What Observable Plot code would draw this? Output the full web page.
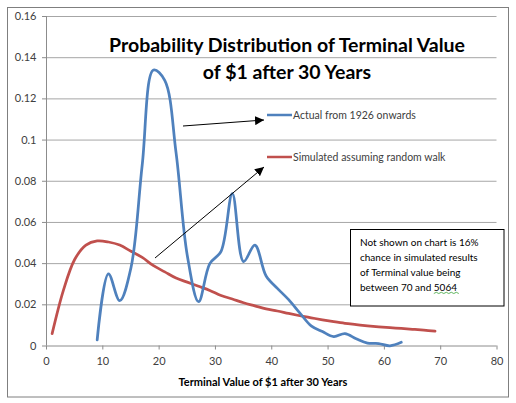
<!DOCTYPE html>
<html>
<head>
<meta charset="utf-8">
<script src="https://cdn.jsdelivr.net/npm/d3@7"></script>
<script src="https://cdn.jsdelivr.net/npm/@observablehq/plot@0.6"></script>
<style>
  html, body { margin: 0; padding: 0; background: #fff; }
  #chart svg { display: block; }
</style>
</head>
<body>
<div id="chart"></div>
<script>
// ---- data ----
const xTicks = [0, 10, 20, 30, 40, 50, 60, 70, 80];
const yTicks = [0, 0.02, 0.04, 0.06, 0.08, 0.1, 0.12, 0.14, 0.16];

const actualX = [9, 11, 13, 15, 17, 19, 21, 23, 25, 27, 29, 31, 33, 35, 37, 39, 41, 43, 45, 47, 49, 51, 53, 55, 57, 59, 61, 63];
const actualY = [0.003, 0.035, 0.022, 0.038, 0.088, 0.134, 0.129, 0.094, 0.044, 0.0215, 0.040, 0.046, 0.074, 0.041, 0.049, 0.034, 0.028, 0.0225, 0.016, 0.0098, 0.007, 0.0046, 0.006, 0.0035, 0.0014, 0.0012, 0.0001, 0.0018];

const simX = [1, 3, 5, 7, 9, 11, 13, 15, 17, 19, 21, 23, 25, 27, 29, 31, 33, 35, 37, 39, 41, 43, 45, 47, 49, 51, 53, 55, 57, 59, 61, 63, 65, 67, 69];
const simY = [0.006, 0.027, 0.042, 0.049, 0.051, 0.0505, 0.049, 0.046, 0.043, 0.039, 0.036, 0.033, 0.031, 0.029, 0.027, 0.0245, 0.0228, 0.021, 0.0195, 0.018, 0.017, 0.0158, 0.0147, 0.0137, 0.0127, 0.0118, 0.011, 0.0104, 0.0098, 0.0093, 0.0089, 0.0085, 0.0081, 0.0077, 0.0072];

const seriesNames = ["Actual from 1926 onwards", "Simulated assuming random walk"];
const seriesColors = ["#4F81BD", "#C0504D"];
const titleLines = ["Probability Distribution of Terminal Value", "of $1 after 30 Years"];
const xLabel = "Terminal Value of $1 after 30 Years";
const noteLines = ["Not shown on chart is 16%", "chance in simulated results", "of Terminal value being", "between 70 and "];
const noteTail = "5064";

const actual = actualX.map((x, i) => ({x, y: actualY[i]}));
const sim = simX.map((x, i) => ({x, y: simY[i]}));

const FONT = "Lato, 'Open Sans', sans-serif";
const fmt = d => String(+d.toFixed(2));

const chart = Plot.plot({
  width: 516,
  height: 403,
  marginLeft: 46,
  marginRight: 19.5,
  marginTop: 16,
  marginBottom: 57.5,
  style: {fontFamily: FONT, fontSize: "11px", color: "#404040", background: "#fff"},
  x: {domain: [0, 80]},
  y: {domain: [0, 0.16]},
  marks: [
    Plot.gridY(yTicks.filter(d => d > 0), {stroke: "#a6a6a6", strokeOpacity: 1, strokeWidth: 1}),
    Plot.axisX(xTicks, {tickSize: 4, tickPadding: 7, stroke: "#8c8c8c", label: null, fill: "#404040", fontSize: 11}),
    Plot.axisY(yTicks, {tickSize: 4, tickPadding: 6, stroke: "#8c8c8c", label: null, tickFormat: fmt, fill: "#404040", fontSize: 11}),
    Plot.ruleY([0], {stroke: "#8c8c8c"}),
    Plot.ruleX([0], {stroke: "#8c8c8c"}),
    Plot.line(sim, {x: "x", y: "y", curve: "catmull-rom", stroke: seriesColors[1], strokeWidth: 2.75}),
    Plot.line(actual, {x: "x", y: "y", curve: "catmull-rom", stroke: seriesColors[0], strokeWidth: 2.75})
  ]
});
document.getElementById("chart").appendChild(chart);

// ---- annotations (layout) ----
const svg = d3.select(chart);
svg.insert("rect", ":first-child")
  .attr("x", 7.5).attr("y", 7.5).attr("width", 501).attr("height", 389.5)
  .attr("fill", "#fff").attr("stroke", "#7f7f7f");

const defs = svg.append("defs");
defs.append("marker").attr("id", "ah").attr("viewBox", "0 0 10 10")
  .attr("refX", 10).attr("refY", 5).attr("markerWidth", 9).attr("markerHeight", 9)
  .attr("markerUnits", "userSpaceOnUse").attr("orient", "auto")
  .append("path").attr("d", "M0,0L10,5L0,10Z").attr("fill", "#000");

const ann = svg.append("g").attr("font-family", FONT).attr("text-anchor", "start");

// title
titleLines.forEach((t, i) => {
  ann.append("text").attr("x", 287).attr("y", 52 + i * 27).attr("text-anchor", "middle")
    .attr("font-size", 19.5).attr("font-weight", "bold").attr("fill", "#000").text(t);
});

// legend
const legY = [115, 157];
seriesNames.forEach((n, i) => {
  ann.append("line").attr("x1", 267).attr("x2", 292).attr("y1", legY[i]).attr("y2", legY[i])
    .attr("stroke", seriesColors[i]).attr("stroke-width", 2.5);
  ann.append("text").attr("x", 293).attr("y", legY[i] + 3.8).attr("font-size", 10.5)
    .attr("fill", "#404040").text(n);
});

// arrows
[[183, 126, 264, 120], [155, 258, 264, 167]].forEach(([x1, y1, x2, y2]) => {
  ann.append("line").attr("x1", x1).attr("y1", y1).attr("x2", x2).attr("y2", y2)
    .attr("stroke", "#000").attr("stroke-width", 1).attr("marker-end", "url(#ah)");
});

// note box
ann.append("rect").attr("x", 350.5).attr("y", 229.5).attr("width", 153.5).attr("height", 76.5)
  .attr("fill", "#fff").attr("stroke", "#000").attr("stroke-width", 1);
noteLines.forEach((t, i) => {
  const tx = ann.append("text").attr("x", 360).attr("y", 245.5 + i * 15).attr("font-size", 10)
    .attr("fill", "#000").text(t);
  if (i === noteLines.length - 1) {
    const w = tx.node().getComputedTextLength();
    const tail = ann.append("text").attr("x", 360 + w).attr("y", 245.5 + i * 15).attr("font-size", 10)
      .attr("fill", "#000").text(noteTail);
    const tw = tail.node().getComputedTextLength();
    const x0 = 360 + w, yb = 245.5 + i * 15 + 3;
    const n = Math.ceil(tw / 2.5);
    ann.append("path").attr("d", d3.range(0, n + 1).map(k => `${k ? "L" : "M"}${x0 + k * 2.5},${k % 2 ? yb - 1.2 : yb}`).join(""))
      .attr("fill", "none").attr("stroke", "#3aa53a").attr("stroke-width", 0.8);
  }
});

// x axis title
ann.append("text").attr("x", 263).attr("y", 386).attr("text-anchor", "middle")
  .attr("font-size", 11).attr("font-weight", "bold").attr("fill", "#000").text(xLabel);
</script>
</body>
</html>
